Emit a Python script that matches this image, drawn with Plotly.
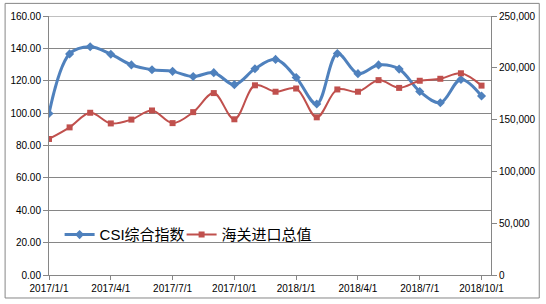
import plotly.graph_objects as go

months = ["2017/1/1", "2017/2/1", "2017/3/1", "2017/4/1", "2017/5/1", "2017/6/1",
          "2017/7/1", "2017/8/1", "2017/9/1", "2017/10/1", "2017/11/1", "2017/12/1",
          "2018/1/1", "2018/2/1", "2018/3/1", "2018/4/1", "2018/5/1", "2018/6/1",
          "2018/7/1", "2018/8/1", "2018/9/1", "2018/10/1"]

csi_index = [99.8, 136.6, 141.0, 136.4, 129.8, 126.8, 125.8, 122.6, 125.0, 117.6, 127.4, 133.2,
             122.0, 105.6, 136.8, 124.4, 129.8, 127.2, 113.4, 106.4, 120.8, 110.6]

customs_import = [131300, 142500, 156600, 146300, 150000, 158800, 146600, 157200, 175600, 150300, 183100, 176900,
                  180000, 152200, 179100, 176900, 188100, 180600, 187500, 189400, 194700, 182800]

tick_labels = months[::3]

name_csi = "CSI综合指数"
name_import = "海关进口总值"

blue = "#4F81BD"
red = "#C0504D"
grey = "#868686"
font_family = "Liberation Sans, Arial, Noto Sans CJK SC, sans-serif"

fig = go.Figure()
fig.add_trace(go.Scatter(
    x=months, y=csi_index, name=name_csi, mode="lines+markers", legend="legend",
    line=dict(color=blue, width=3, shape="spline", smoothing=1),
    marker=dict(symbol="diamond", size=7, color=blue),
))
fig.add_trace(go.Scatter(
    x=months, y=customs_import, name=name_import, mode="lines+markers", yaxis="y2",
    legend="legend2",
    line=dict(color=red, width=2, shape="spline", smoothing=1),
    marker=dict(symbol="square", size=6, color=red),
))

legend_style = dict(
    orientation="h", xanchor="left", y=0.155, yanchor="middle",
    bgcolor="rgba(0,0,0,0)", borderwidth=0,
    font=dict(size=15, family=font_family, color="#000000"),
)

fig.update_layout(
    width=546, height=304, autosize=False,
    margin=dict(l=47, r=53, t=10, b=27, pad=0),
    paper_bgcolor="white", plot_bgcolor="white",
    font=dict(family=font_family, size=10, color="#000000"),
    xaxis=dict(
        type="category", range=[0, 21.46],
        tickmode="array", tickvals=tick_labels, ticktext=tick_labels,
        showgrid=False, showline=True, linecolor=grey, linewidth=1,
        ticks="outside", ticklen=4, tickcolor=grey,
        tickfont=dict(size=10, family=font_family),
        zeroline=False,
    ),
    yaxis=dict(
        range=[0, 160], dtick=20, tick0=0, tickformat=".2f",
        showgrid=True, gridcolor=grey, gridwidth=1,
        showline=True, linecolor=grey, linewidth=1,
        ticks="outside", ticklen=5, tickcolor=grey,
        zeroline=False, tickfont=dict(size=10, family=font_family),
    ),
    yaxis2=dict(
        overlaying="y", side="right", range=[0, 250000], dtick=50000, tick0=0,
        tickformat=",d", showgrid=False,
        showline=True, linecolor=grey, linewidth=1,
        ticks="outside", ticklen=5, tickcolor=grey,
        zeroline=False, tickfont=dict(size=10, family=font_family),
    ),
    legend=dict(x=0.024, **legend_style),
    legend2=dict(x=0.30, **legend_style),
    showlegend=True,
    shapes=[
        dict(type="line", xref="paper", yref="y", x0=0, x1=1, y0=160, y1=160,
             line=dict(color="#C0C0C0", width=2), layer="below"),
        dict(type="rect", xref="paper", yref="paper",
             x0=(2.7 - 47) / 446, x1=(541.7 - 47) / 446,
             y0=(277 - 300.7) / 267, y1=(277 + 3) / 267,
             line=dict(color=grey, width=1), layer="below"),
    ],
)

fig.write_html("out.html", config={"displayModeBar": False},
               post_script=["document.body.style.margin='0';"])
